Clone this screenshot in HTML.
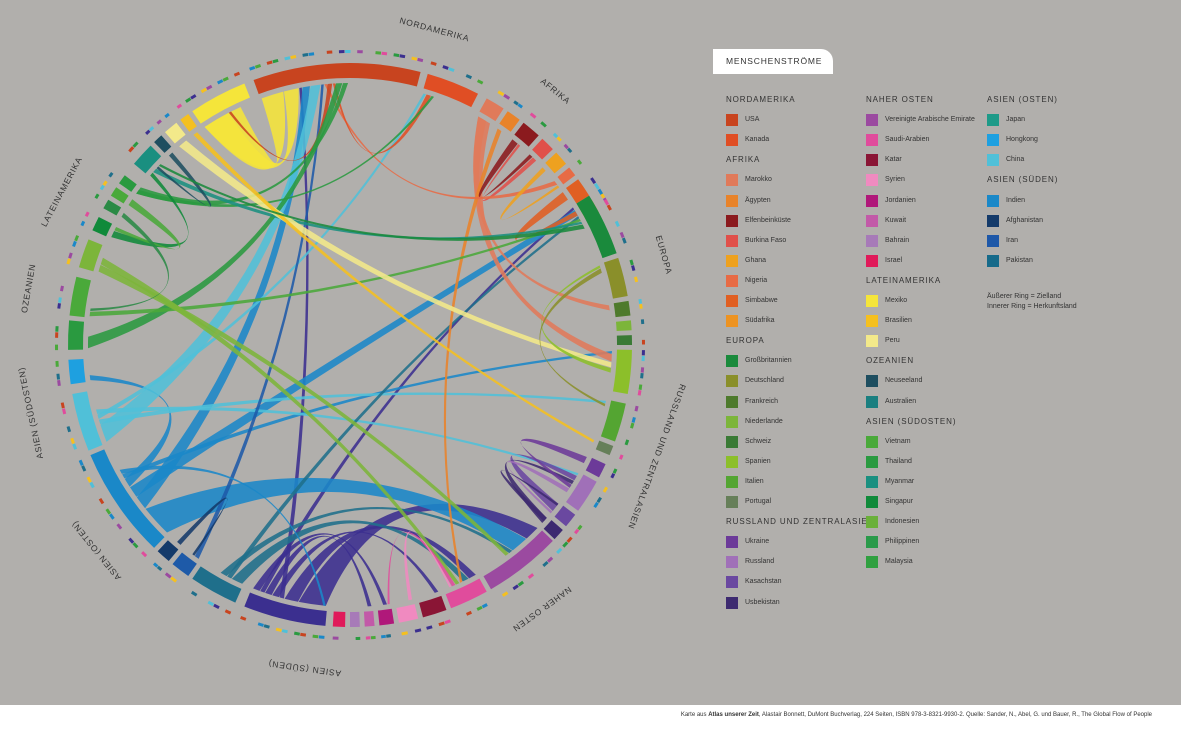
<!DOCTYPE html>
<html><head><meta charset="utf-8">
<style>
html,body{margin:0;padding:0;}
body{width:1181px;height:739px;background:#b1afac;position:relative;overflow:hidden;font-family:"Liberation Sans",sans-serif;color:#2a2a2a;}
#chart{position:absolute;left:0;top:0;}
.title-box{position:absolute;left:713px;top:49px;width:120px;height:25px;background:#fff;border-top-right-radius:12px;font-size:8.5px;letter-spacing:0.8px;line-height:25px;box-sizing:border-box;padding-left:13px;color:#333;}
.hdr{position:absolute;font-size:8px;letter-spacing:0.9px;color:#333;white-space:nowrap;}
.item{position:absolute;font-size:7px;color:#333;white-space:nowrap;}
.sw{position:absolute;width:12px;height:12px;}
.note{position:absolute;font-size:7px;color:#333;line-height:10px;}
.footer{position:absolute;left:0;top:705px;width:1181px;height:34px;background:#fff;}
.footer span{position:absolute;right:29px;top:7px;font-size:6px;color:#333;white-space:nowrap;}
</style></head>
<body>
<svg id="chart" width="700" height="705"></svg>
<div class="title-box">MENSCHENSTRÖME</div>
<div id="legend"></div>
<div class="note" style="left:987px;top:292px;">Äußerer Ring = Zielland<br>Innerer Ring = Herkunftsland</div>
<div class="footer"><span>Karte aus <b>Atlas unserer Zeit</b>, Alastair Bonnett, DuMont Buchverlag, 224 Seiten, ISBN 978-3-8321-9930-2. Quelle: Sander, N., Abel, G. und Bauer, R., The Global Flow of People</span></div>
<script>
// ---- ring segments (degrees clockwise from top) ----
const segNames = ["USA","Kanada","Marokko","Ägypten","Elfenbeinküste","Burkina Faso","Ghana","Nigeria","Simbabwe","Südafrika",
"Großbritannien","Deutschland","Frankreich","Niederlande","Schweiz","Spanien","Italien","Portugal",
"Ukraine","Russland","Kasachstan","Usbekistan",
"VAE","Saudi-Arabien","Katar","Syrien","Jordanien","Kuwait","Bahrain","Israel",
"Indien","Pakistan","Iran","Afghanistan",
"China","Hongkong","Japan",
"Vietnam","Thailand","Indonesien","Singapur","Myanmar","Malaysia","Philippinen","Australien","Neuseeland",
"Peru","Brasilien","Mexiko"];
const segColors = ["#c8441f","#e04e24","#e07a5a","#e8832a","#8b1a1e","#e0504a","#eea11f","#e76b45","#e05f22","#ed9322",
"#1a8a3c","#8a8f2a","#4e7a2c","#7cb53a","#3a7a35","#8cbf2a","#54a532","#667f59",
"#6c3a99","#a070b8","#6a48a0","#3d2a70",
"#9b4aa0","#e04c9c","#8a1535","#f08ac0","#b0187a","#c25aa8","#a77ab8","#e01a5a",
"#3b2f8f","#1f6f8b","#1e5aa8","#143a6a",
"#1a88c8","#50c0d8","#1ea0e0",
"#2a9a40","#4aa93a","#7cb53a","#108a3a","#2a8a45","#4aa93a","#2a9a40","#1a8f80","#1e4e60",
"#f3e98a","#f5c01f","#f5e53a"];
const segStart = [-20,16,29,34,38,43,47,51,54,59, 58,72,81,85,88,91,102,111, 115,119,127,131, 134,151,160,166,171,175,178,181, 185,204,215,220, 224,248,262, 269,276,286,294,299,302,305,310,316, 319,323,326];
const segEnd   = [14.5,27,33,37,42,46,50,53,58,62, 71,80,84,87,90,100,110,113, 118,126,130,133.5, 150,159,165,170,174,177,180,183.5, 202,214,219,223, 247,260,267, 275,284,292,297,301,304,307,315,318, 322,325,338];

// ---- flows: origin, destination, width (degrees) ----
const flowFrom = ["Mexiko","Mexiko","Indien","Indien","Indien","Indien","Indien","Indien","China","China","China","China","China","Hongkong","Hongkong","Hongkong","Hongkong",
"Pakistan","Pakistan","Pakistan","Iran","Afghanistan","Marokko","Marokko","Ägypten","Elfenbeinküste","Burkina Faso","Simbabwe","Nigeria","Ghana","USA","Kanada",
"Vietnam","Thailand","Indonesien","Indonesien","Philippinen","Philippinen","Singapur","Malaysia","Myanmar","Australien","Neuseeland",
"Peru","Brasilien","Kasachstan","Usbekistan","Ukraine","Russland","Usbekistan","Spanien","Großbritannien","Deutschland","Saudi-Arabien","Syrien","Indien","China"];
const flowTo = ["USA","USA","VAE","Saudi-Arabien","USA","Katar","Kuwait","Großbritannien","VAE","USA","Großbritannien","Japan","Spanien","USA","Italien","Kanada","Russland",
"Saudi-Arabien","Großbritannien","VAE","USA","Iran","Spanien","Frankreich","Saudi-Arabien","Burkina Faso","Elfenbeinküste","Südafrika","USA","Nigeria","Mexiko","USA",
"USA","Großbritannien","VAE","Saudi-Arabien","USA","Kanada","Australien","Singapur","Thailand","Großbritannien","Australien",
"Spanien","Portugal","Russland","Russland","Russland","Kasachstan","Kasachstan","Deutschland","Australien","Italien","Jordanien","Saudi-Arabien","Jordanien","Indien"];
const flowWidth = [9,6,6,3,1,1.5,1.5,1,7,3,2.5,2,1,4,1,1,1,
2.5,1,1.5,1,1,3,2,1,1.5,1,2,1,1,1,1,
2.5,1,1.5,1.5,2,1,1.5,1.5,1,1,1,
2,1,2,1.5,1.5,1,1,1,1,1,0.8,0.8,1.5,1];

const ns="http://www.w3.org/2000/svg";
const svg=document.getElementById('chart');
const cx=350,cy=345,R=262,r0=267,r1=282;
function P(a,r){const t=(a-90)*Math.PI/180;return [cx+r*Math.cos(t),cy+r*Math.sin(t)];}
function arcPath(a0,a1,ri,ro){const p1=P(a0,ro),p2=P(a1,ro),p3=P(a1,ri),p4=P(a0,ri);const l=(a1-a0)>180?1:0;
return `M${p1[0]},${p1[1]}A${ro},${ro} 0 ${l} 1 ${p2[0]},${p2[1]}L${p3[0]},${p3[1]}A${ri},${ri} 0 ${l} 0 ${p4[0]},${p4[1]}Z`;}
const idx={};segNames.forEach((n,i)=>idx[n]=i);
const cursor=segStart.map(s=>s+0.3);
function take(i,w){if(cursor[i]+w>segEnd[i])cursor[i]=segStart[i]+0.3;const a=cursor[i];cursor[i]+=w+0.15;return [a,Math.min(a+w,segEnd[i])];}
function ctrl(p,q){const mx=(p[0]+q[0])/2,my=(p[1]+q[1])/2;return [mx+(cx-mx)*0.5,my+(cy-my)*0.5];}

const gFlows=document.createElementNS(ns,'g');


svg.appendChild(gFlows);
for(let k=0;k<flowFrom.length;k++){
  const s=idx[flowFrom[k]],t=idx[flowTo[k]];
  const [a0,a1]=take(s,flowWidth[k]);
  const wt=Math.max(0.4,flowWidth[k]*0.55);
  const [b0,b1]=take(t,wt);
  const p0=P(a0,R),p1=P(a1,R),q0=P(b0,R),q1=P(b1,R);
  const c1=ctrl(p1,q0),c2=ctrl(q1,p0);
  const d=`M${p0[0]},${p0[1]}A${R},${R} 0 0 1 ${p1[0]},${p1[1]}Q${c1[0]},${c1[1]} ${q0[0]},${q0[1]}A${R},${R} 0 0 1 ${q1[0]},${q1[1]}Q${c2[0]},${c2[1]} ${p0[0]},${p0[1]}Z`;
  const path=document.createElementNS(ns,'path');
  path.setAttribute('d',d);
  path.setAttribute('fill',segColors[s]);
  path.setAttribute('fill-opacity','0.88');
  
  
  gFlows.appendChild(path);
}

// inner ring
for(let i=0;i<segNames.length;i++){
  const p=document.createElementNS(ns,'path');
  p.setAttribute('d',arcPath(segStart[i],segEnd[i],r0,r1));
  p.setAttribute('fill',segColors[i]);
  
  
  svg.appendChild(p);
}
// outer ring (destination mix) — decorative strips, sparse
const outerPalette=["#1a88c8","#4aa93a","#e04c9c","#c8441f","#2a9a40","#3b2f8f","#50c0d8","#f5c01f","#9b4aa0","#1f6f8b"];
for(let i=0;i<segNames.length;i++){
  const span=segEnd[i]-segStart[i];
  const n=Math.max(1,Math.round(span/1.2));
  const st=span/n;
  for(let j=0;j<n;j++){
    if((i+j)%3===2||(j%7===5))continue;
    const a=segStart[i]+j*st;
    const p=document.createElementNS(ns,'path');
    p.setAttribute('d',arcPath(a,a+st*0.9,292,295));
    p.setAttribute('fill',outerPalette[(i*3+j)%outerPalette.length]);
    
    
    svg.appendChild(p);
  }
}
// region labels
const labelText=["NORDAMERIKA","AFRIKA","EUROPA","RUSSLAND UND ZENTRALASIEN","NAHER OSTEN","ASIEN (SÜDEN)","ASIEN (OSTEN)","ASIEN (SÜDOSTEN)","OZEANIEN","LATEINAMERIKA"];
const labelAngle=[15,39,74,110,144,188,231,258,280,298];
for(let i=0;i<labelText.length;i++){
  const [x,y]=P(labelAngle[i],326);
  const t=document.createElementNS(ns,'text');
  t.setAttribute('x',x);t.setAttribute('y',y);
  t.setAttribute('text-anchor','middle');
  t.setAttribute('dominant-baseline','middle');
  t.setAttribute('font-size','8.5');
  t.setAttribute('letter-spacing','0.8');
  t.setAttribute('fill','#333');
  t.setAttribute('font-family','Liberation Sans, sans-serif');
  t.setAttribute('transform',`rotate(${labelAngle[i]} ${x} ${y})`);
  t.textContent=labelText[i];
  
  
  svg.appendChild(t);
}

// legend
const legCols=[
 {x:726,items:[["h","NORDAMERIKA"],["USA","#c8441f"],["Kanada","#e04e24"],["h","AFRIKA"],["Marokko","#e07a5a"],["Ägypten","#e8832a"],["Elfenbeinküste","#8b1a1e"],["Burkina Faso","#e0504a"],["Ghana","#eea11f"],["Nigeria","#e76b45"],["Simbabwe","#e05f22"],["Südafrika","#ed9322"],["h","EUROPA"],["Großbritannien","#1a8a3c"],["Deutschland","#8a8f2a"],["Frankreich","#4e7a2c"],["Niederlande","#7cb53a"],["Schweiz","#3a7a35"],["Spanien","#8cbf2a"],["Italien","#54a532"],["Portugal","#667f59"],["h","RUSSLAND UND ZENTRALASIEN"],["Ukraine","#6c3a99"],["Russland","#a070b8"],["Kasachstan","#6a48a0"],["Usbekistan","#3d2a70"]]},
 {x:866,items:[["h","NAHER OSTEN"],["Vereinigte Arabische Emirate","#9b4aa0"],["Saudi-Arabien","#e04c9c"],["Katar","#8a1535"],["Syrien","#f08ac0"],["Jordanien","#b0187a"],["Kuwait","#c25aa8"],["Bahrain","#a77ab8"],["Israel","#e01a5a"],["h","LATEINAMERIKA"],["Mexiko","#f5e53a"],["Brasilien","#f5c01f"],["Peru","#f3e98a"],["h","OZEANIEN"],["Neuseeland","#1e4e60"],["Australien","#1a7f80"],["h","ASIEN (SÜDOSTEN)"],["Vietnam","#4aa93a"],["Thailand","#2a9a40"],["Myanmar","#1a9080"],["Singapur","#108a3a"],["Indonesien","#6ab03a"],["Philippinen","#2a9a4a"],["Malaysia","#30a040"]]},
 {x:987,items:[["h","ASIEN (OSTEN)"],["Japan","#1e9a88"],["Hongkong","#1ea0e0"],["China","#50c0d8"],["h","ASIEN (SÜDEN)"],["Indien","#1a88c8"],["Afghanistan","#143a6a"],["Iran","#1e58a8"],["Pakistan","#166a8a"]]}
];
const leg=document.getElementById('legend');
legCols.forEach(col=>{
  col.items.forEach((it,j)=>{
    const y=100+j*20.1;
    if(it[0]==="h"){
      const d=document.createElement('div');d.className='hdr';
      d.style.left=col.x+'px';d.style.top=(y-5)+'px';d.textContent=it[1];
      
      
      leg.appendChild(d);
    } else {
      const s=document.createElement('div');s.className='sw';
      s.style.left=col.x+'px';s.style.top=(y-6)+'px';s.style.background=it[1];
      
      
      leg.appendChild(s);
      const t=document.createElement('div');t.className='item';
      t.style.left=(col.x+19)+'px';t.style.top=(y-4)+'px';t.textContent=it[0];
      
      
      leg.appendChild(t);
    }
  });
});
</script>
</body></html>
